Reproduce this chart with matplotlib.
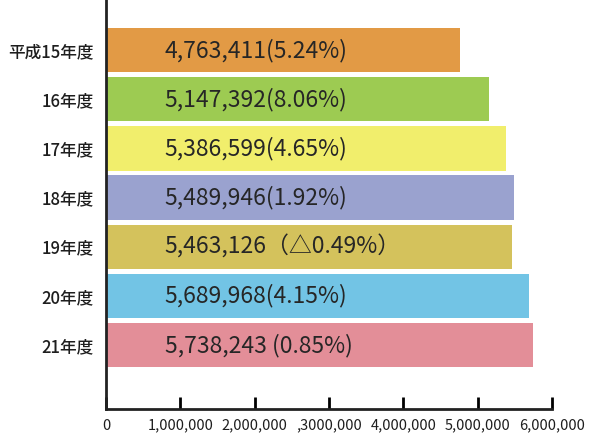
import numpy as np
import matplotlib.pyplot as plt

plt.rcParams['font.family'] = ['Noto Sans CJK JP', 'DejaVu Sans']

# data
years = ["平成15年度", "16年度", "17年度", "18年度", "19年度", "20年度", "21年度"]
values = [4763411, 5147392, 5386599, 5489946, 5463126, 5689968, 5738243]
bar_labels = [
    "4,763,411(5.24%)",
    "5,147,392(8.06%)",
    "5,386,599(4.65%)",
    "5,489,946(1.92%)",
    "5,463,126（△0.49%）",
    "5,689,968(4.15%)",
    "5,738,243 (0.85%)",
]
bar_colors = ["#E29A45", "#9DCB52", "#F1EE6C", "#9AA2CF", "#D4C25C", "#72C4E5", "#E38E98"]
xticks = [0, 1000000, 2000000, 3000000, 4000000, 5000000, 6000000]
xtick_labels = ["0", "1,000,000", "2,000,000", ",3000,000", "4,000,000", "5,000,000", "6,000,000"]

fig = plt.figure(figsize=(5.98, 4.44), dpi=100)
ax = fig.add_axes([106 / 598, 1 - 409 / 444, (552 - 106) / 598, 409 / 444])

pos = np.arange(len(years))
ax.barh(pos, values, height=0.9, color=bar_colors)
for p, lab in zip(pos, bar_labels):
    ax.text(790000, p, lab, va='center', ha='left', fontsize=16.5, color='#262626')

ax.set_xlim(0, 6000000)
ax.set_ylim(7.3, -1.02)

ax.set_yticks(pos)
ax.set_yticklabels(years, fontsize=12, color='#1e1e1e', fontweight='medium')
ax.tick_params(axis='y', length=0, pad=9)

ax.set_xticks(xticks)
ax.set_xticklabels(xtick_labels, fontsize=10.5, color='#1e1e1e')
ax.tick_params(axis='x', direction='in', length=9, width=2, pad=7)

for s in ['top', 'right']:
    ax.spines[s].set_visible(False)
for s in ['left', 'bottom']:
    ax.spines[s].set_linewidth(2)
    ax.spines[s].set_color('#222222')

fig.savefig("out.png", dpi=100)
